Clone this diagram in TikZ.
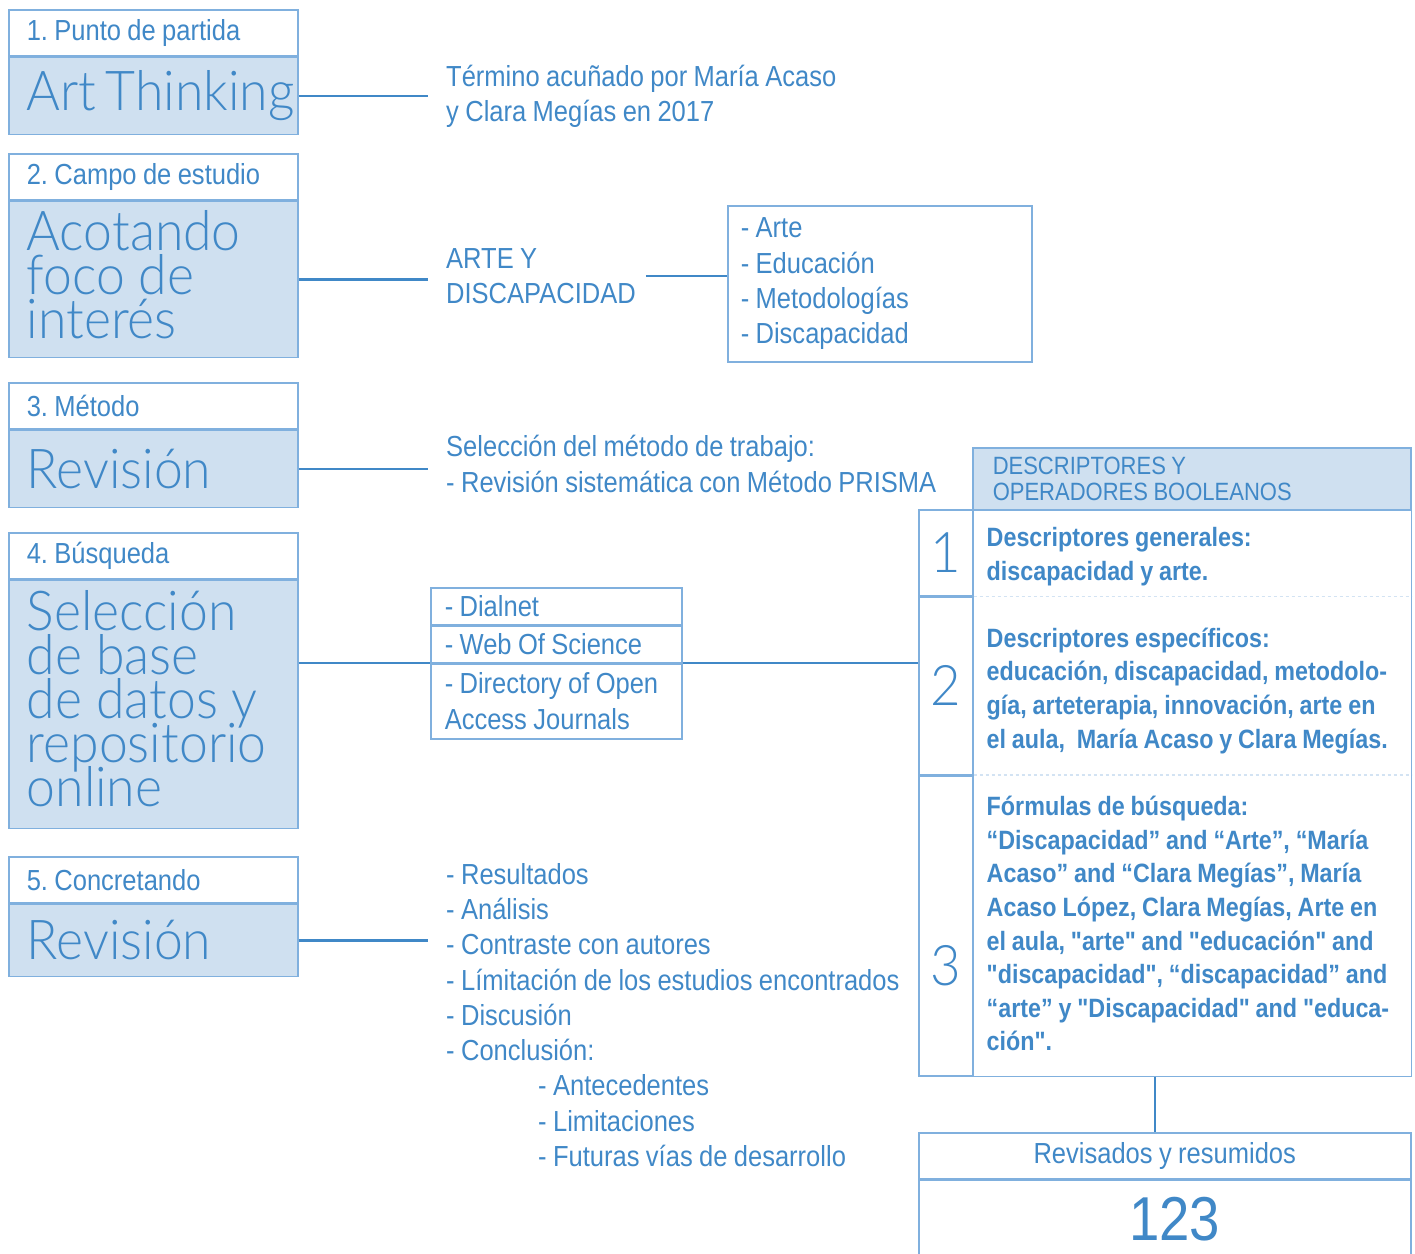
\documentclass[tikz,border=0pt]{standalone}
\usepackage{fontspec}
\setmainfont{Liberation Sans}
\newfontfamily\condfont[FakeStretch=0.88,WordSpace=0.9]{Liberation Sans}
\IfFontExistsTF{Lato Light}
  {\newfontfamily\grande[FakeStretch=0.94]{Lato Light}}
  {\newfontfamily\grande[FakeStretch=0.91]{Liberation Sans}}
\newcommand\apretado{\setlength{\lineskiplimit}{-50pt}}
\usetikzlibrary{positioning}
\definecolor{azul}{RGB}{64,136,199}
\definecolor{fondo}{RGB}{207,224,240}
\definecolor{borde}{RGB}{128,176,222}
\frenchspacing
\hyphenpenalty=10000

\tikzset{
  cab/.style={draw=borde,line width=1.5pt,fill=white,text=azul,anchor=north west,
    minimum width=289pt,minimum height=46pt,text width=253pt,inner xsep=18pt,inner ysep=0pt,
    align=flush left,font=\condfont\fontsize{29}{33}\selectfont},
  cuerpo/.style={cab,fill=fondo,font=\grande\fontsize{55}{44}\selectfont\apretado},
  texto/.style={text=azul,anchor=west,align=left,inner xsep=18pt,
    font=\condfont\fontsize{29}{35.3}\selectfont},
  caja/.style={draw=borde,line width=1.5pt,text=azul,anchor=north west,align=flush left,inner ysep=0pt,
    font=\condfont\fontsize{29}{35.3}\selectfont},
  num/.style={draw=borde,line width=1.5pt,text=azul,minimum width=54pt,inner sep=0pt,
    font=\grande\fontsize{56}{56}\selectfont},
  celda/.style={text=azul,minimum width=438pt,text width=430pt,inner xsep=13pt,inner ysep=0pt,
    align=flush left,font=\condfont\bfseries\fontsize{26.5}{33.6}\selectfont},
  linea/.style={draw=azul,line width=2.5pt},
  fina/.style={draw=borde,line width=1.5pt}
}

\begin{document}
\begin{tikzpicture}[x=1pt,y=-1pt]
\useasboundingbox (0,0) rectangle (1415,1253);

% columna de pasos
\node[cab] (cab1) at (8,9) {1. Punto de partida};
\node[cuerpo,minimum height=77pt,below=0pt of cab1] (paso1) {Art~Thinking};
\node[cab] (cab2) at (8,153) {2. Campo de estudio};
\node[cuerpo,minimum height=156pt,below=0pt of cab2] (paso2) {Acotando\\foco de\\interés\vspace*{9pt}};
\node[cab] (cab3) at (8,382) {3. Método};
\node[cuerpo,minimum height=77pt,below=0pt of cab3] (paso3) {Revisión};
\node[cab] (cab4) at (8,532) {4. Búsqueda};
\node[cuerpo,minimum height=248pt,below=0pt of cab4] (paso4) {Selección\\de base\\de datos y\\repositorio\\online\vspace*{12pt}};
\node[cab] (cab5) at (8,856) {5. Concretando};
\node[cuerpo,minimum height=72pt,below=0pt of cab5] (paso5) {Revisión};

% textos centrales
\node[texto] (txt1) at (428,96) {Término acuñado por María Acaso\\y Clara Megías en 2017};
\node[texto] (txt2) at (428,276) {ARTE Y\\DISCAPACIDAD};
\node[caja,minimum width=304pt,minimum height=156pt,text width=278pt,inner xsep=13pt] (areas) at (727,205)
  {- Arte\\- Educación\\- Metodologías\\- Discapacidad};
\node[texto] (txt3) at (428,464) {Selección del método de trabajo:\\- Revisión sistemática con Método PRISMA};
\node[caja,minimum width=251pt,minimum height=37pt,text width=223pt,inner xsep=14pt] (db1) at (430,587) {- Dialnet};
\node[caja,minimum width=251pt,minimum height=36pt,text width=223pt,inner xsep=14pt,below=0pt of db1] (db2) {- Web Of Science};
\node[caja,minimum width=251pt,minimum height=75pt,text width=223pt,inner xsep=14pt,below=0pt of db2] (db3) {- Directory of Open\\Access Journals};
\node[texto] (txt5) at (428,1015) {- Resultados\\- Análisis\\- Contraste con autores\\- Límitación de los estudios encontrados\\- Discusión\\- Conclusión:\\
  \hspace*{92pt}- Antecedentes\\\hspace*{92pt}- Limitaciones\\\hspace*{92pt}- Futuras vías de desarrollo};

% tabla de descriptores
\node[fina,fill=fondo,text=azul,anchor=north west,minimum width=438pt,minimum height=62pt,text width=398pt,
  inner xsep=20pt,inner ysep=0pt,align=flush left,font=\condfont\fontsize{25}{26}\selectfont] (desc) at (972,447)
  {DESCRIPTORES Y\\OPERADORES BOOLEANOS};
\node[num,anchor=north west,minimum height=86pt] (n1) at (918,509) {1};
\node[num,minimum height=177pt,below=0pt of n1] (n2) {2};
\node[num,minimum height=300pt,below=0pt of n2] (n3) {\raisebox{-40pt}[\height][\depth]{3}};
\node[celda,minimum height=86pt,right=0pt of n1,yshift=-4pt] (d1) {Descriptores generales:\\discapacidad y arte.};
\node[celda,minimum height=177pt,right=0pt of n2,yshift=-5pt] (d2) {Descriptores específicos:\\educación, discapacidad, metodolo-\\gía, arteterapia, innovación, arte en\\el aula,\ \ María Acaso y Clara Megías.};
\node[celda,minimum height=300pt,right=0pt of n3,yshift=2pt] (d3) {Fórmulas de búsqueda:\\“Discapacidad” and “Arte”, “María\\Acaso” and “Clara Megías”, María\\Acaso López, Clara Megías, Arte en\\el aula, "arte" and "educación" and\\"discapacidad", “discapacidad” and\\“arte” y "Discapacidad" and "educa-\\ción".};
\draw[fina] (desc.south east) -- (desc.east |- n3.south) -- (n3.south east);
\draw[fina,draw=borde!35,dashed] (n1.south east) -- (n1.south -| desc.east);
\draw[fina,draw=borde!35,dashed] (n2.south east) -- (n2.south -| desc.east);

% resultado
\node[cab,minimum width=492pt,text width=456pt,align=flush center] (rev) at (918,1132) {Revisados y resumidos};
\node[cab,minimum width=492pt,text width=456pt,align=flush center,minimum height=78pt,
  font=\condfont\fontsize{62}{62}\selectfont,below=0pt of rev] (total) {\hspace*{20pt}123};

% conectores
\draw[linea] (paso1.east) -- (paso1.east -| txt1.west);
\draw[linea] (paso2.east) -- (paso2.east -| txt2.west);
\draw[linea,shorten <=-8pt] (txt2.east) -- (txt2.east -| areas.west);
\draw[linea] (paso3.east) -- (paso3.east -| txt3.west);
\draw[linea] (db3.north west -| paso4.east) -- (db3.north west);
\draw[linea] (db3.north east) -- (db3.north east -| n2.west);
\draw[linea] (paso5.east) -- (paso5.east -| txt5.west);
\path (n3.south west) -- (desc.east |- n3.south) coordinate[pos=0.48] (baja);
\draw[linea] (baja) -- (baja |- rev.north);
\end{tikzpicture}
\end{document}
